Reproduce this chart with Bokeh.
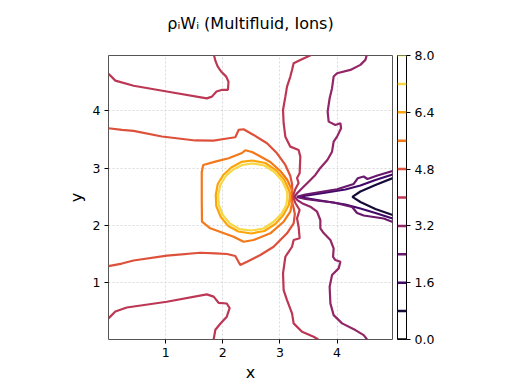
from bokeh.plotting import figure
from bokeh.layouts import row
from bokeh.models import FixedTicker, PrintfTickFormatter, LinearAxis, Range1d, Title
from bokeh.embed import file_html
from bokeh.resources import INLINE

# ---- data -------------------------------------------------------------
title_text = "ρᵢWᵢ (Multifluid, Ions)"
levels = [0.0, 0.8, 1.6, 2.4, 3.2, 4.0, 4.8, 5.6, 6.4, 7.2, 8.0]
level_colors = ["#000004", "#160b39", "#420a68", "#6a176e", "#932667", "#bc3754",
                "#dd513a", "#f37819", "#fca50a", "#f6d746", "#fcffa4"]
axis_ticks = [1, 2, 3, 4]
cbar_ticks = [0.0, 1.6, 3.2, 4.8, 6.4, 8.0]

# contour traces (data units)
c40_a_x = [0.0, 0.12, 0.44, 1.02, 1.72, 1.81, 1.89, 1.99, 2.09, 2.10, 2.06, 1.97, 1.91, 1.87, 1.84]
c40_a_y = [4.65, 4.53, 4.44, 4.34, 4.22, 4.25, 4.34, 4.37, 4.37, 4.51, 4.60, 4.69, 4.78, 4.88, 5.0]
c40_b_x = [0.0, 0.12, 0.32, 1.02, 1.72, 1.84, 1.93, 2.07, 2.12, 2.07, 1.96, 1.87, 1.84]
c40_b_y = [0.37, 0.49, 0.56, 0.66, 0.79, 0.75, 0.64, 0.63, 0.55, 0.40, 0.28, 0.17, 0.0]
c40_c_x = [3.59, 3.357, 3.24, 3.212, 3.182, 3.124, 3.095, 3.054, 3.065, 3.095, 3.182, 3.327,
           3.357, 3.345, 3.299, 3.327, 3.27, 3.226, 3.27, 3.345, 3.299, 3.327, 3.345, 3.24,
           3.212, 3.095, 3.054, 3.065, 3.124, 3.212, 3.24, 3.387, 3.59, 3.672]
c40_c_y = [5.0, 4.893, 4.835, 4.718, 4.601, 4.426, 4.25, 4.017, 3.785, 3.55, 3.375, 3.317,
           3.2, 2.909, 2.827, 2.739, 2.634, 2.503, 2.389, 2.266, 2.121, 1.974, 1.771, 1.741,
           1.623, 1.448, 1.158, 0.865, 0.69, 0.457, 0.282, 0.135, 0.047, 0.0]
c32_x = [4.525, 4.496, 4.408, 4.233, 4.0, 3.94, 3.912, 3.87, 3.835, 3.853, 3.97, 4.058, 4.07,
         4.0, 3.94, 3.912, 3.83, 3.707, 3.62, 3.503, 3.387, 3.305, 3.252, 3.305, 3.387, 3.532,
         3.65, 3.707, 3.707, 3.765, 3.883, 3.94, 3.93, 3.97, 4.058, 4.028, 3.912, 3.87, 3.883,
         3.94, 4.088, 4.32, 4.466, 4.525]
c32_y = [5.0, 4.893, 4.806, 4.718, 4.66, 4.601, 4.398, 4.222, 3.988, 3.813, 3.755, 3.785, 3.697,
         3.55, 3.462, 3.287, 3.142, 3.002, 2.879, 2.762, 2.646, 2.563, 2.5, 2.44, 2.386, 2.324,
         2.236, 2.091, 1.946, 1.863, 1.741, 1.595, 1.448, 1.391, 1.361, 1.245, 1.128, 0.923,
         0.632, 0.427, 0.282, 0.165, 0.077, 0.0]
c24_x = [5.0, 4.706, 4.531, 4.466, 4.361, 4.291, 4.0, 3.707, 3.445, 3.296, 3.445, 3.707, 3.94,
         4.263, 4.35, 4.466, 4.816, 5.0]
c24_y = [2.958, 2.87, 2.809, 2.853, 2.821, 2.722, 2.629, 2.581, 2.538, 2.497, 2.459, 2.424,
         2.398, 2.319, 2.214, 2.17, 2.117, 2.047]
c16_x = [5.0, 4.671, 4.408, 4.145, 3.707, 3.445, 3.349, 3.445, 3.707, 4.145, 4.408, 4.671, 5.0]
c16_y = [2.897, 2.792, 2.695, 2.625, 2.555, 2.515, 2.494, 2.473, 2.433, 2.363, 2.292, 2.214, 2.109]
c08_x = [5.0, 4.671, 4.408, 4.268, 4.408, 4.671, 5.0]
c08_y = [2.835, 2.704, 2.59, 2.497, 2.406, 2.284, 2.17]
c48_x = [0.0, 0.235, 0.438, 0.935, 1.518, 1.839, 2.074, 2.219, 2.277, 2.364, 2.539, 2.774,
         2.949, 3.095, 3.182, 3.212, 3.217, 3.208, 3.217, 3.24, 3.261, 3.24, 3.124, 2.89, 2.657,
         2.424, 2.306, 2.219, 2.074, 1.869, 1.606, 1.023, 0.438, 0.235, 0.0]
c48_y = [3.697, 3.667, 3.65, 3.553, 3.483, 3.48, 3.518, 3.539, 3.667, 3.679, 3.58, 3.434,
         3.259, 3.054, 2.862, 2.722, 2.599, 2.494, 2.389, 2.301, 2.196, 2.033, 1.858, 1.623,
         1.478, 1.361, 1.303, 1.461, 1.496, 1.508, 1.518, 1.469, 1.382, 1.329, 1.285]
c56_x = [3.182, 3.208, 3.13, 3.007, 2.832, 2.627, 2.511, 2.394, 2.336, 2.102, 1.869, 1.658,
         1.632, 1.632, 1.636, 1.781, 2.189, 2.364, 2.539, 2.832, 3.065, 3.182, 3.208, 3.182]
c56_y = [2.494, 2.616, 2.792, 2.949, 3.107, 3.221, 3.282, 3.312, 3.264, 3.172, 3.112, 3.054,
         2.932, 2.441, 2.061, 1.946, 1.799, 1.711, 1.741, 1.858, 2.061, 2.236, 2.371, 2.494]
c64_x = [2.517, 2.744, 2.937, 3.077, 3.165, 3.173, 3.156, 3.06, 2.919, 2.727, 2.499, 2.271,
         2.096, 1.965, 1.886, 1.877, 1.912, 2.009, 2.149, 2.324, 2.517]
c64_y = [3.133, 3.089, 2.958, 2.792, 2.599, 2.494, 2.354, 2.179, 2.021, 1.898, 1.855, 1.89,
         1.986, 2.144, 2.336, 2.529, 2.722, 2.879, 3.011, 3.107, 3.133]
c72_x = [2.517, 2.727, 2.902, 3.042, 3.121, 3.13, 3.112, 3.025, 2.884, 2.709, 2.499, 2.289,
         2.123, 2.0, 1.93, 1.921, 1.956, 2.053, 2.184, 2.341, 2.517]
c72_y = [3.081, 3.045, 2.932, 2.774, 2.599, 2.494, 2.354, 2.196, 2.056, 1.942, 1.907, 1.933,
         2.03, 2.179, 2.354, 2.529, 2.704, 2.862, 2.975, 3.054, 3.081]

contours = [
    (0.8, c08_x, c08_y), (1.6, c16_x, c16_y), (2.4, c24_x, c24_y), (3.2, c32_x, c32_y),
    (4.0, c40_a_x, c40_a_y), (4.0, c40_b_x, c40_b_y), (4.0, c40_c_x, c40_c_y),
    (4.8, c48_x, c48_y), (5.6, c56_x, c56_y), (6.4, c64_x, c64_y), (7.2, c72_x, c72_y),
]

FONT = "DejaVu Sans"

# ---- main figure ------------------------------------------------------
p = figure(width=397, height=384, output_backend="svg", toolbar_location=None,
           x_range=Range1d(0, 4.97), y_range=Range1d(0, 4.97),
           frame_width=284, frame_height=284,
           min_border_left=108, min_border_right=5, min_border_top=55, min_border_bottom=45)
p.title.text = ""
# spacer (closest to the frame) then the visible title above it
p.add_layout(Title(text=" ", text_font=FONT, text_font_size="10px", standoff=8), "above")
p.add_layout(Title(text=title_text, text_font=FONT, text_font_size="16px",
                   text_font_style="normal", text_color="black", align="center",
                   vertical_align="top", standoff=0), "above")

for lev, xs, ys in contours:
    col = level_colors[levels.index(lev)]
    p.line(xs, ys, line_color=col, line_width=2.2)

for ax in (p.xaxis[0], p.yaxis[0]):
    ax.ticker = FixedTicker(ticks=axis_ticks)
    ax.major_label_text_font = FONT
    ax.major_label_text_font_size = "12.5px"
    ax.major_label_text_color = "black"
    ax.axis_label_text_font = FONT
    ax.axis_label_text_font_size = "16px"
    ax.axis_label_text_font_style = "normal"
    ax.axis_label_text_color = "black"
    ax.major_tick_out = 4
    ax.major_tick_in = 0
    ax.minor_tick_out = 0
    ax.minor_tick_in = 0
    ax.axis_line_color = None
    ax.major_tick_line_color = "black"
    ax.major_label_standoff = 4
p.xaxis.axis_label = "x"
p.yaxis.axis_label = "y"
p.xaxis.axis_label_standoff = 3
p.yaxis.axis_label_standoff = 4

p.outline_line_color = "#555555"
p.outline_line_width = 1
p.grid.ticker = FixedTicker(ticks=axis_ticks)
p.grid.grid_line_color = "#d0d0d0"
p.grid.grid_line_dash = "2 2"
p.grid.grid_line_width = 0.8
p.background_fill_color = "white"
p.border_fill_color = "white"

# ---- colorbar ---------------------------------------------------------
cb = figure(width=59, height=384, output_backend="svg", toolbar_location=None,
            x_range=Range1d(0, 1), y_range=Range1d(0, 8),
            frame_width=9, frame_height=284,
            min_border_left=0, min_border_right=50, min_border_top=55, min_border_bottom=45,
            x_axis_location=None, y_axis_location=None)
cb.grid.visible = False
cb.outline_line_color = "black"
cb.outline_line_width = 1
cb.segment(x0=[0] * len(levels), x1=[1] * len(levels), y0=levels, y1=levels,
           line_color=level_colors, line_width=2.5)
cax = LinearAxis(ticker=FixedTicker(ticks=cbar_ticks),
                 formatter=PrintfTickFormatter(format="%.1f"))
cax.major_label_text_font = FONT
cax.major_label_text_font_size = "12.5px"
cax.major_label_text_color = "black"
cax.major_tick_out = 4
cax.major_tick_in = 0
cax.minor_tick_out = 0
cax.minor_tick_in = 0
cax.axis_line_color = None
cax.major_label_standoff = 4
cb.add_layout(cax, "right")

layout = row(p, cb, spacing=0)
open("out.html", "w").write(file_html(layout, INLINE))
